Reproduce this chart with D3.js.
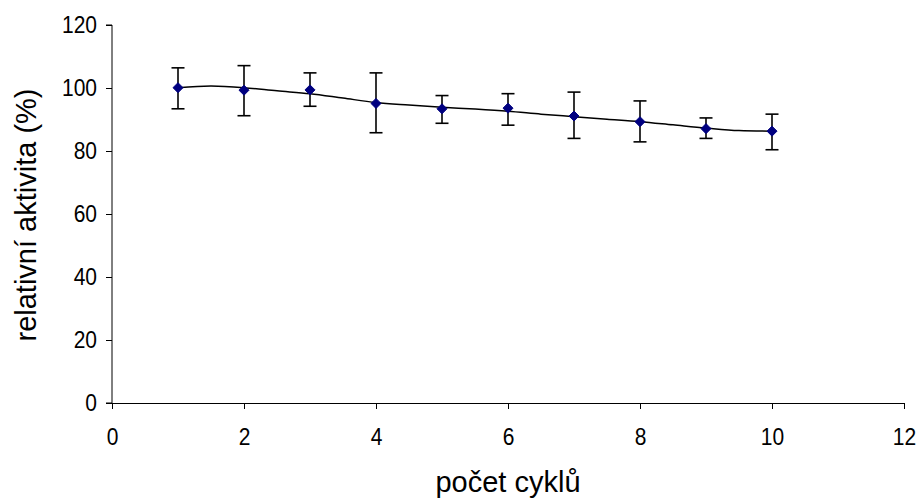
<!DOCTYPE html>
<html>
<head>
<meta charset="utf-8">
<script src="https://cdn.jsdelivr.net/npm/d3@7"></script>
<style>
  html, body { margin: 0; padding: 0; background: #fff; }
  svg { display: block; font-family: "Liberation Sans", Arial, sans-serif; }
</style>
</head>
<body>
<svg id="chart" width="916" height="500"></svg>
<script>
// Cycle number and measured relative activity (%)
const cycles = [1, 2, 3, 4, 5, 6, 7, 8, 9, 10];
const activity = [100.1, 99.3, 99.4, 95.1, 93.4, 93.6, 91.1, 89.3, 87.1, 86.3];
const errUpper = [106.4, 107.1, 104.8, 104.8, 97.6, 98.2, 98.7, 95.9, 90.5, 91.7];
const errLower = [93.4, 91.2, 94.2, 85.8, 88.8, 88.2, 84.0, 82.9, 84.0, 80.4];

// Trend line readings
const trendX = [1, 1.5, 2, 2.5, 3, 3.5, 4, 4.5, 5, 5.5, 6, 6.5, 7, 7.5, 8, 8.5, 9, 9.5, 10];
const trendY = [100.1, 100.6, 100.1, 99.1, 98.2, 96.8, 95.4, 94.6, 93.9, 93.3, 92.6, 91.7, 90.9, 90.1, 89.3, 88.3, 87.3, 86.5, 86.3];

const xTicks = [0, 2, 4, 6, 8, 10, 12];
const yTicks = [0, 20, 40, 60, 80, 100, 120];

const svg = d3.select("#chart");
const plotLeft = 112, plotRight = 904, plotTop = 25, plotBottom = 403;

const x = d3.scaleLinear().domain([0, 12]).range([plotLeft, plotRight]);
const y = d3.scaleLinear().domain([0, 120]).range([plotBottom, plotTop]);

const axisColor = "#000";
const tickFont = "21px";
const titleFont = "29px";
const tickStretch = "scale(1,1.14)";

// Y axis
const yAxis = svg.append("g")
  .attr("transform", `translate(${plotLeft},0)`)
  .call(d3.axisLeft(y).tickValues(yTicks).tickSize(6).tickPadding(9).tickFormat(d3.format("d")));
// X axis
const xAxis = svg.append("g")
  .attr("transform", `translate(0,${plotBottom})`)
  .call(d3.axisBottom(x).tickValues(xTicks).tickSize(6).tickPadding(16).tickFormat(d3.format("d")));

[yAxis, xAxis].forEach(g => {
  g.select(".domain").attr("stroke", axisColor).attr("stroke-width", 1);
  g.selectAll(".tick line").attr("stroke", axisColor);
  g.selectAll(".tick text")
    .attr("fill", "#000")
    .attr("transform", tickStretch)
    .style("font-size", tickFont)
    .style("font-family", "\"Liberation Sans\", Arial, sans-serif");
});
yAxis.select(".domain").attr("d", `M-6,${plotTop}H0V${plotBottom}H-6`);
xAxis.selectAll(".tick text").attr("dy", "0.71em");

// Trend line
svg.append("path")
  .datum(trendX.map((d, i) => [d, trendY[i]]))
  .attr("fill", "none")
  .attr("stroke", "#000")
  .attr("stroke-width", 1.5)
  .attr("d", d3.line().x(d => x(d[0])).y(d => y(d[1])).curve(d3.curveMonotoneX));

// Error bars
const capHalf = 6.5;
const eb = svg.append("g").attr("stroke", "#000").attr("stroke-width", 1.6).attr("fill", "none");
cycles.forEach((c, i) => {
  const cx = x(c);
  eb.append("line").attr("x1", cx).attr("x2", cx).attr("y1", y(errUpper[i])).attr("y2", y(errLower[i]));
  eb.append("line").attr("x1", cx - capHalf).attr("x2", cx + capHalf).attr("y1", y(errUpper[i])).attr("y2", y(errUpper[i]));
  eb.append("line").attr("x1", cx - capHalf).attr("x2", cx + capHalf).attr("y1", y(errLower[i])).attr("y2", y(errLower[i]));
});

// Diamond markers
const diamond = d3.symbol().type(d3.symbolDiamond2).size(64);
svg.append("g").selectAll("path")
  .data(cycles)
  .join("path")
  .attr("d", diamond)
  .attr("transform", (d, i) => `translate(${x(d)},${y(activity[i])})`)
  .attr("fill", "#000080")
  .attr("stroke", "#000080")
  .attr("stroke-width", 1);

// Axis titles
svg.append("text")
  .attr("x", 508)
  .attr("y", 492)
  .attr("text-anchor", "middle")
  .attr("fill", "#000")
  .style("font-size", titleFont)
  .text("počet cyklů");

svg.append("text")
  .attr("transform", `translate(36,215) rotate(-90)`)
  .attr("text-anchor", "middle")
  .attr("fill", "#000")
  .style("font-size", titleFont)
  .text("relativní aktivita (%)");
</script>
</body>
</html>
